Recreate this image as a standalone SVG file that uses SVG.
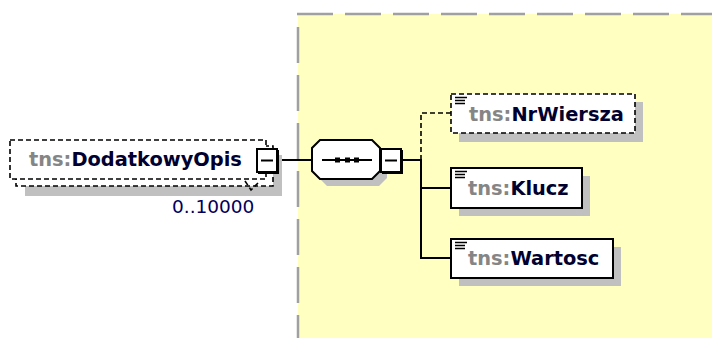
<svg xmlns="http://www.w3.org/2000/svg" width="712" height="338" viewBox="0 0 712 338">
<defs>
<style>
.ns{fill:#858585}
.nm{fill:#000030}
.lbl{font-family:"DejaVu Sans","Liberation Sans",sans-serif;font-weight:bold;font-size:19.4px}
.occ{font-family:"DejaVu Sans","Liberation Sans",sans-serif;font-size:18.5px;fill:#00005a}
.shadow{fill:#c0c0c0}
.box{fill:#fff;stroke:#000;stroke-width:2}
.dbox{fill:#fff;stroke:#000;stroke-width:1.6;stroke-dasharray:5 3}
.line{fill:none;stroke:#000;stroke-width:2}
.dline{fill:none;stroke:#000;stroke-width:1.6;stroke-dasharray:5 3}
.border{fill:none;stroke:#a0a0a0;stroke-width:2.5;stroke-dasharray:36 12}
.icon{stroke:#000;stroke-width:1.4}
</style>
</defs>
<rect width="712" height="338" fill="#fff"/>
<g id="complexTypeArea">
<rect x="298" y="14" width="414" height="324" fill="#ffffc2"/>
<path class="border" d="M297,14 H712"/>
<path class="border" d="M298,27 V338"/>
</g>
<g id="connectors">
<path class="line" d="M279,160 H312"/>
<path class="line" d="M403,160 H421"/>
<path class="dline" d="M421,160 V113 H451"/>
<path class="line" d="M421,159 V258 H451"/>
<path class="line" d="M421,188 H451"/>
</g>
<g id="DodatkowyOpis">
<rect class="shadow" x="25" y="155" width="257" height="41"/>
<rect class="dbox" x="16" y="146" width="257" height="40"/>
<rect class="dbox" x="10" y="140" width="256" height="39"/>
<path class="dline" d="M245,181 L251,190 L258,183" stroke-width="1.2"/>
<text class="lbl" x="29" y="166"><tspan class="ns">tns:</tspan><tspan class="nm">DodatkowyOpis</tspan></text>
<rect class="box" x="257" y="149" width="20" height="23"/>
<path class="line" d="M278,150 V173 H258" stroke-width="2.5"/>
<path class="line" d="M261,160.5 H273" stroke-width="1.6"/>
<text class="occ" x="172" y="213">0..10000</text>
</g>
<g id="sequence">
<polygon class="shadow" points="327,147 379,147 387,155 387,178 379,186 327,186 319,178 319,155"/>
<polygon class="box" points="320,140 372,140 380,148 380,171 372,179 320,179 312,171 312,148"/>
<path class="line" d="M322,160 H372" stroke-width="1.6"/>
<rect x="335" y="157.5" width="5" height="5" fill="#000"/>
<rect x="345" y="157.5" width="5" height="5" fill="#000"/>
<rect x="354" y="157.5" width="5" height="5" fill="#000"/>
<rect class="box" x="381" y="149" width="20" height="23"/>
<path class="line" d="M402,150 V173 H382" stroke-width="2.5"/>
<path class="line" d="M385,160.5 H397" stroke-width="1.6"/>
</g>
<g id="NrWiersza">
<rect class="shadow" x="459" y="102" width="184" height="40"/>
<rect class="dbox" x="451" y="94" width="184" height="39"/>
<path class="icon" d="M455,97.5 H467 M455,100.5 H465 M455,103.5 H465"/>
<text class="lbl" x="469" y="121"><tspan class="ns">tns:</tspan><tspan class="nm">NrWiersza</tspan></text>
</g>
<g id="Klucz">
<rect class="shadow" x="459" y="176" width="131" height="40"/>
<rect class="box" x="451" y="168" width="131" height="40"/>
<path class="icon" d="M455,171.5 H467 M455,174.5 H465 M455,177.5 H465"/>
<text class="lbl" x="468" y="195"><tspan class="ns">tns:</tspan><tspan class="nm">Klucz</tspan></text>
</g>
<g id="Wartosc">
<rect class="shadow" x="459" y="247" width="162" height="39"/>
<rect class="box" x="451" y="239" width="162" height="39"/>
<path class="icon" d="M455,242.5 H467 M455,245.5 H465 M455,248.5 H465"/>
<text class="lbl" x="468" y="265"><tspan class="ns">tns:</tspan><tspan class="nm">Wartosc</tspan></text>
</g>
</svg>
